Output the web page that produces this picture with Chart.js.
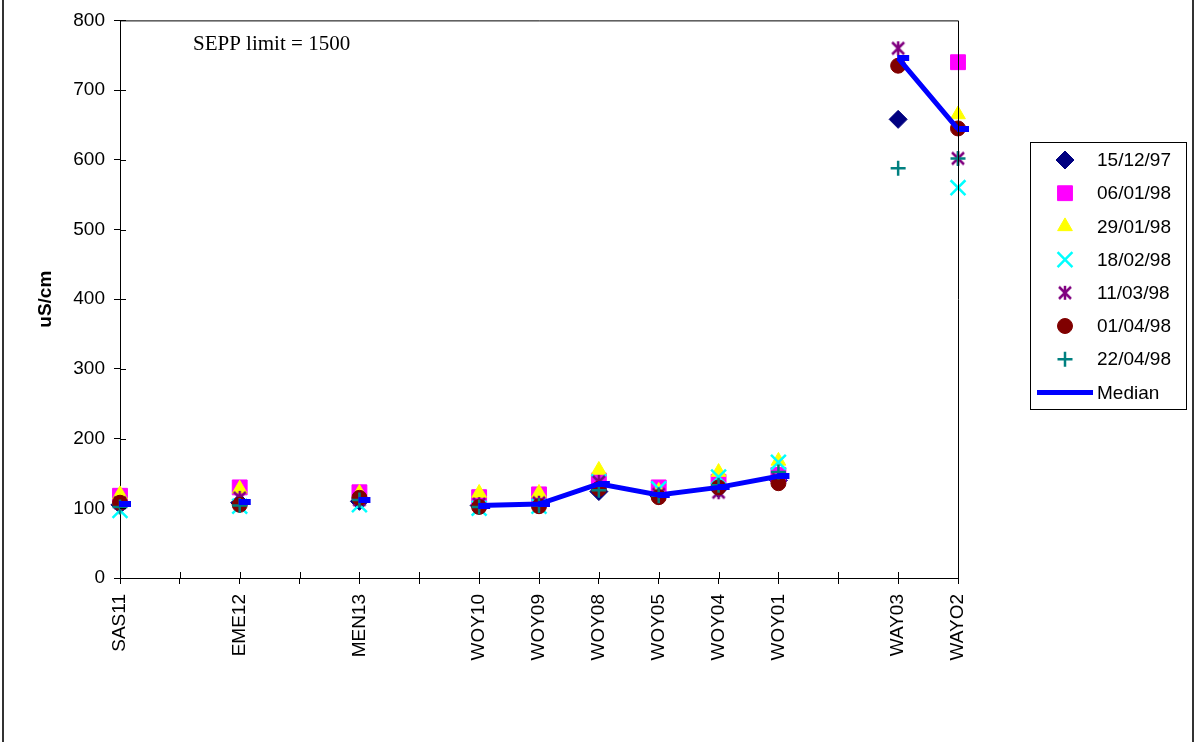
<!DOCTYPE html>
<html lang="en">
<head>
    <meta charset="UTF-8">
    <title>Conductivity by Site</title>
    <script src="https://cdn.jsdelivr.net/npm/chart.js"></script>
    <style>
        body {
            margin: 0;
            background: #fff;
        }
        canvas {
            display: block;
        }
    </style>
</head>
<body>
    <canvas id="condChart" width="1200" height="742"></canvas>

    <script>
        // sampling sites (blank entries are spacer positions on the axis)
        const sites = ['SAS11', '', 'EME12', '', 'MEN13', '', 'WOY10', 'WOY09', 'WOY08', 'WOY05', 'WOY04', 'WOY01', '', 'WAY03', 'WAYO2'];
        const sampleDates = ['15/12/97', '06/01/98', '29/01/98', '18/02/98', '11/03/98', '01/04/98', '22/04/98'];

        // conductivity readings, uS/cm
        const d151297 = [105, null, 108, null, 110, null, 104, 106, 124, 118, 128, 140, null, 658, null];
        const d060198 = [118, null, 130, null, 123, null, 116, 120, 140, 130, 138, 148, null, null, 740];
        const d290198 = [120, null, 128, null, 122, null, 122, 122, 155, 125, 152, 168, null, null, 665];
        const d180298 = [97, null, 103, null, 105, null, 100, 103, 138, 128, 145, 166, null, null, 560];
        const d110398 = [108, null, 115, null, 112, null, 106, 108, 138, 120, 123, 142, null, 760, 602];
        const d010498 = [108, null, 105, null, 115, null, 102, 103, 128, 116, 130, 136, null, 735, 645];
        const d220498 = [102, null, 104, null, 112, null, 102, 104, 126, 118, 133, 152, null, 588, 602];
        const medianVals = [106, null, 109, null, 112, null, 104, 106, 135, 119, 130, 146, null, 746, 644];

        const yMin = 0, yMax = 800, yStep = 100;
        const FONT = "'Liberation Sans', Arial, sans-serif";

        // excel style "dash" marker for the median
        const dash = document.createElement('canvas');
        dash.width = 24;
        dash.height = 6;
        const dctx = dash.getContext('2d');
        dctx.fillStyle = '#0000ff';
        dctx.fillRect(11, 0, 12, 6);

        // excel style asterisk: an x with a vertical bar
        const aster = document.createElement('canvas');
        aster.width = 16;
        aster.height = 16;
        const actx = aster.getContext('2d');
        actx.strokeStyle = '#800080';
        actx.lineWidth = 2.5;
        actx.beginPath();
        actx.moveTo(2, 2); actx.lineTo(14, 14);
        actx.moveTo(14, 2); actx.lineTo(2, 14);
        actx.moveTo(8, 1); actx.lineTo(8, 15);
        actx.stroke();

        const markerStyles = [
            { style: 'rectRot', color: '#000080', radius: 9, border: 1 },
            { style: 'rect', color: '#ff00ff', radius: 10.5, border: 1 },
            { style: 'triangle', color: '#ffff00', radius: 8.5, border: 1 },
            { style: 'crossRot', color: '#00ffff', radius: 10.5, border: 2.5 },
            { style: aster, color: '#800080', radius: 8, border: 0 },
            { style: 'circle', color: '#800000', radius: 7.5, border: 1 },
            { style: 'cross', color: '#008080', radius: 7.5, border: 2.5 }
        ];
        const seriesData = [d151297, d060198, d290198, d180298, d110398, d010498, d220498];

        const datasets = seriesData.map((vals, i) => ({
            label: sampleDates[i],
            data: vals,
            showLine: false,
            pointStyle: markerStyles[i].style,
            pointRadius: markerStyles[i].radius,
            pointBackgroundColor: markerStyles[i].color,
            pointBorderColor: markerStyles[i].color,
            pointBorderWidth: markerStyles[i].border,
            order: 8 - i
        }));
        datasets.push({
            label: 'Median',
            data: medianVals,
            borderColor: '#0000ff',
            borderWidth: 5,
            pointStyle: dash,
            pointRadius: 6,
            spanGaps: false,
            tension: 0,
            order: 0
        });

        const decorations = {
            id: 'decorations',
            afterDraw(chart) {
                const ctx = chart.ctx;
                const area = chart.chartArea;
                const x = chart.scales.x, y = chart.scales.y;
                ctx.save();

                // outer frame
                ctx.strokeStyle = '#333';
                ctx.lineWidth = 2;
                ctx.beginPath();
                ctx.moveTo(3, 0); ctx.lineTo(3, 742);
                ctx.moveTo(1193, 0); ctx.lineTo(1193, 742);
                ctx.stroke();

                // plot border top + right
                ctx.strokeStyle = '#000';
                ctx.lineWidth = 1;
                ctx.beginPath();
                ctx.moveTo(area.left, area.top + 0.5);
                ctx.lineTo(area.right + 0.5, area.top + 0.5);
                ctx.lineTo(area.right + 0.5, area.bottom);
                ctx.stroke();

                // inner half of the tick marks
                ctx.beginPath();
                for (let v = yMin; v <= yMax; v += yStep) {
                    const py = Math.round(y.getPixelForValue(v)) + 0.5;
                    ctx.moveTo(area.left, py);
                    ctx.lineTo(area.left + 6, py);
                }
                for (let i = 0; i < sites.length; i++) {
                    const px = Math.round(x.getPixelForValue(i)) + 0.5;
                    ctx.moveTo(px, area.bottom);
                    ctx.lineTo(px, area.bottom - 6);
                }
                ctx.stroke();

                // note
                ctx.fillStyle = '#000';
                ctx.font = "21px 'Liberation Serif', 'Times New Roman', serif";
                ctx.textBaseline = 'middle';
                ctx.textAlign = 'left';
                ctx.fillText('SEPP limit = 1500', 193, 44);

                // legend
                ctx.strokeStyle = '#000';
                ctx.lineWidth = 1;
                ctx.strokeRect(1030.5, 142.5, 156, 267);
                ctx.font = '19px ' + FONT;
                chart.data.datasets.forEach((ds, i) => {
                    const ly = 160 + i * 33.2;
                    if (ds.label === 'Median') {
                        ctx.strokeStyle = '#0000ff';
                        ctx.lineWidth = 5;
                        ctx.beginPath();
                        ctx.moveTo(1037, ly);
                        ctx.lineTo(1093, ly);
                        ctx.stroke();
                    } else {
                        ctx.fillStyle = ds.pointBackgroundColor;
                        ctx.strokeStyle = ds.pointBorderColor;
                        ctx.lineWidth = ds.pointBorderWidth;
                        Chart.helpers.drawPoint(ctx, {
                            pointStyle: ds.pointStyle,
                            radius: ds.pointRadius,
                            borderWidth: ds.pointBorderWidth,
                            rotation: 0
                        }, 1065, ly);
                    }
                    ctx.fillStyle = '#000';
                    ctx.fillText(ds.label, 1097, ly + 1);
                });
                ctx.restore();
            }
        };

        new Chart(document.getElementById('condChart'), {
            type: 'line',
            data: {
                labels: sites,
                datasets: datasets
            },
            options: {
                responsive: false,
                animation: false,
                events: [],
                layout: {
                    padding: { left: 0, top: 20, right: 242, bottom: 0 }
                },
                plugins: {
                    legend: { display: false },
                    tooltip: { enabled: false }
                },
                scales: {
                    x: {
                        type: 'category',
                        offset: false,
                        afterFit: (scale) => { scale.height = 164; },
                        grid: {
                            offset: false,
                            drawOnChartArea: false,
                            color: '#000',
                            tickLength: 6
                        },
                        border: { color: '#000', width: 1 },
                        ticks: {
                            autoSkip: false,
                            minRotation: 90,
                            maxRotation: 90,
                            padding: 10,
                            color: '#000',
                            font: { family: FONT, size: 19 }
                        }
                    },
                    y: {
                        min: yMin,
                        max: yMax,
                        afterFit: (scale) => { scale.width = 120; },
                        grid: {
                            drawOnChartArea: false,
                            color: '#000',
                            tickLength: 6
                        },
                        border: { color: '#000', width: 1 },
                        ticks: {
                            stepSize: yStep,
                            padding: 9,
                            color: '#000',
                            font: { family: FONT, size: 19 }
                        },
                        title: {
                            display: true,
                            text: 'uS/cm',
                            color: '#000',
                            padding: { top: 34, bottom: 0 },
                            font: { family: FONT, size: 19, weight: 'bold' }
                        }
                    }
                }
            },
            plugins: [decorations]
        });
    </script>
</body>
</html>
